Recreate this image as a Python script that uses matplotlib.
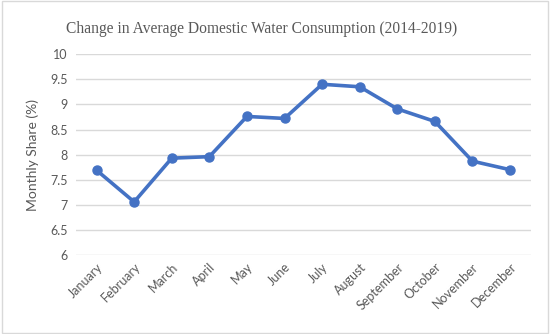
import matplotlib
matplotlib.use("Agg")
import matplotlib.pyplot as plt
from matplotlib.patches import Rectangle

months = ["January", "February", "March", "April", "May", "June", "July",
          "August", "September", "October", "November", "December"]
share = [7.69, 7.06, 7.93, 7.96, 8.76, 8.72, 9.40, 9.35, 8.91, 8.66, 7.87, 7.70]
yticks = [6, 6.5, 7, 7.5, 8, 8.5, 9, 9.5, 10]
ylabels = ["6", "6.5", "7", "7.5", "8", "8.5", "9", "9.5", "10"]

fig = plt.figure(figsize=(5.5, 3.34), dpi=100)
fig.patches.append(Rectangle((0.004, 0.004), 0.992, 0.992, transform=fig.transFigure,
                             fill=False, edgecolor="#d9d9d9", linewidth=1))
ax = fig.add_axes([0.138, 0.236, 0.827, 0.602])

x = range(len(months))
ax.plot(x, share, color="#4472C4", linewidth=2.6, marker="o", markersize=6.5, zorder=3)

ax.set_ylim(6, 10)
ax.set_xlim(-0.55, 11.55)
ax.set_yticks(yticks)
ax.set_yticklabels(ylabels)
ax.set_xticks(list(x))
ax.set_xticklabels(months, rotation=45, ha="right", rotation_mode="anchor")
ax.tick_params(length=0, labelsize=9, labelcolor="#595959", pad=6)
ax.tick_params(axis="x", pad=4)
for lab in ax.get_xticklabels() + ax.get_yticklabels():
    lab.set_family("Lato")
ax.grid(axis="y", color="#d9d9d9", linewidth=1)
ax.set_axisbelow(True)
for s in ax.spines.values():
    s.set_visible(False)

ax.set_ylabel("Monthly Share (%)", fontsize=10, color="#595959", family="Lato", labelpad=8)
fig.text(0.475, 0.912, "Change in Average Domestic Water Consumption (2014-2019)",
         ha="center", va="center", fontsize=11.2, color="#595959", family="Liberation Serif")

fig.savefig("out.png", dpi=100)
